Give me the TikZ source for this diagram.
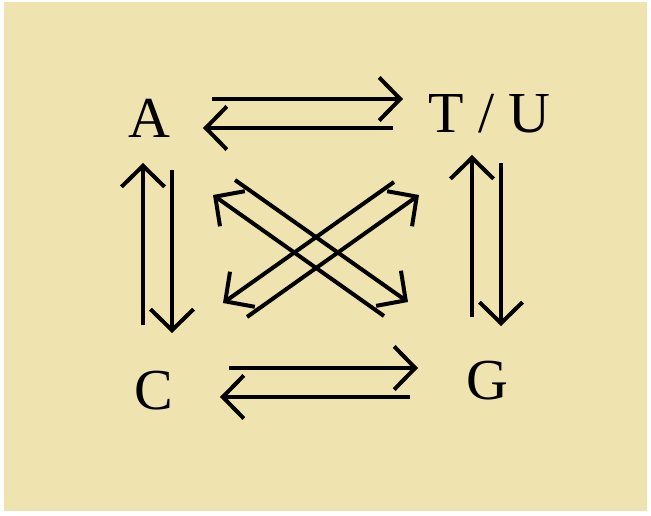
\documentclass[tikz,border=0pt]{standalone}
\usepackage{fontspec}
\setmainfont{Liberation Serif}
\usetikzlibrary{arrows.meta}

\definecolor{paper}{RGB}{239,227,176}

\begin{document}
\begin{tikzpicture}[x=1pt, y=-1pt,
    base/.style={font=\fontsize{58}{58}\selectfont, inner sep=0pt, anchor=base},
    arr/.style={line width=4pt, -{Straight Barb[length=21pt, width=43pt]}}]

    % --- 1. 背景 ---
    \useasboundingbox (0,0) rectangle (651,516);
    \fill[white] (0,0) rectangle (651,516);
    \fill[paper] (4,2) rectangle (647,511);

    % --- 2. 塩基 ---
    \node[base] (A)  at (149,138)   {A};
    \node[base] (TU) at (489.5,133) {T / U};
    \node[base] (C)  at (154,409)   {C};
    \node[base] (G)  at (487,399)   {G};

    % --- 3. 横の矢印 ---
    \draw[arr] ([shift={(63,-39)}]A.base)   -- ([shift={(-86.5,-34)}]TU.base);
    \draw[arr] ([shift={(-96.5,-5)}]TU.base) -- ([shift={(54,-10)}]A.base);
    \draw[arr] ([shift={(75,-41)}]C.base)   -- ([shift={(-69,-31)}]G.base);
    \draw[arr] ([shift={(-77,-2)}]G.base)   -- ([shift={(66,-12)}]C.base);

    % --- 4. 縦の矢印 ---
    \draw[arr] ([shift={(23,32)}]A.base)    -- ([shift={(18,-76)}]C.base);
    \draw[arr] ([shift={(-11,-84)}]C.base)  -- ([shift={(-6,25)}]A.base);
    \draw[arr] ([shift={(11.5,30)}]TU.base) -- ([shift={(14,-73)}]G.base);
    \draw[arr] ([shift={(-15,-82)}]G.base)  -- ([shift={(-17.5,22)}]TU.base);

    % --- 5. 斜めの矢印 ---
    \draw[arr] ([shift={(86,42)}]A.base)     -- ([shift={(-79,-97)}]G.base);
    \draw[arr] ([shift={(-103,-83)}]G.base)  -- ([shift={(64,57)}]A.base);
    \draw[arr] ([shift={(-95.5,49)}]TU.base) -- ([shift={(69,-106)}]C.base);
    \draw[arr] ([shift={(93,-92)}]C.base)    -- ([shift={(-70.5,62)}]TU.base);

\end{tikzpicture}
\end{document}
